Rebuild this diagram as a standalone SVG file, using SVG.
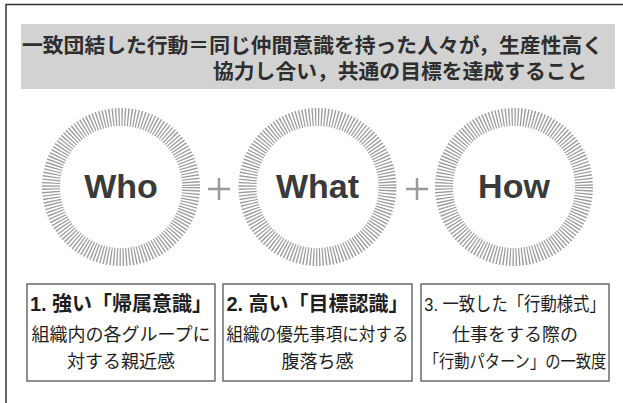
<svg xmlns="http://www.w3.org/2000/svg" width="623" height="403" viewBox="0 0 623 403">
<style>
.frame{stroke:#333;stroke-width:1.5;fill:none}
.banner{fill:#d2d2d2}
.head{font-family:"Liberation Sans","Noto Sans CJK JP",sans-serif;font-weight:bold;font-size:20.8px;fill:#2e2e2e}
.ring{fill:none;stroke:#9c9c9c;stroke-width:18;stroke-dasharray:1.3 1.754}
.word{font-family:"Liberation Sans","Noto Sans",sans-serif;font-weight:bold;font-size:34px;fill:#3a3a3a;text-anchor:middle}
.plus{stroke:#9a9a9a;stroke-width:2.5;fill:none}
.box{fill:#fff;stroke:#555;stroke-width:1.3}
.title{font-family:"Liberation Sans","Noto Sans CJK JP",sans-serif;font-weight:bold;font-size:20px;fill:#1e1e1e;text-anchor:middle}
.title3{font-weight:normal;font-size:19px}
.body{font-family:"Noto Sans CJK JP",sans-serif;font-size:18px;fill:#1e1e1e;text-anchor:middle}
</style>
<rect width="623" height="403" fill="#fff"/>
<path class="frame" d="M6 403 V4.5 H623"/>
<g id="header">
<rect class="banner" x="21" y="24" width="594" height="65"/>
<text class="head" x="22" y="52.5">一致団結した行動＝同じ仲間意識を持った人々が，生産性高く</text>
<text class="head" x="213" y="78.5">協力し合い，共通の目標を達成すること</text>
</g>
<g id="who">
<circle class="ring" cx="121" cy="187" r="70"/>
<text class="word" x="121" y="198">Who</text>
</g>
<g id="what">
<circle class="ring" cx="317.5" cy="187" r="70"/>
<text class="word" x="317.5" y="198">What</text>
</g>
<g id="how">
<circle class="ring" cx="514" cy="187" r="70"/>
<text class="word" x="514" y="198">How</text>
</g>
<g id="connectors">
<path class="plus" d="M208 189 H230 M219 178 V200"/>
<path class="plus" d="M406 189 H428 M417 178 V200"/>
</g>
<g id="box1">
<rect class="box" x="27" y="284" width="188" height="97"/>
<text class="title" x="121" y="311">1. 強い「帰属意識」</text>
<text class="body" x="121" y="341">組織内の各グループに</text>
<text class="body" x="121" y="368">対する親近感</text>
</g>
<g id="box2">
<rect class="box" x="223" y="284" width="189" height="97"/>
<text class="title" x="317.5" y="311">2. 高い「目標認識」</text>
<text class="body" transform="translate(317.5 341) scale(0.92 1)">組織の優先事項に対する</text>
<text class="body" x="317.5" y="368">腹落ち感</text>
</g>
<g id="box3">
<rect class="box" x="421" y="284" width="188" height="97"/>
<text class="title title3" transform="translate(515 311) scale(0.86 1)">3. 一致した「行動様式」</text>
<text class="body" x="515" y="341">仕事をする際の</text>
<text class="body" transform="translate(515 368) scale(0.85 1)">「行動パターン」の一致度</text>
</g>
</svg>
